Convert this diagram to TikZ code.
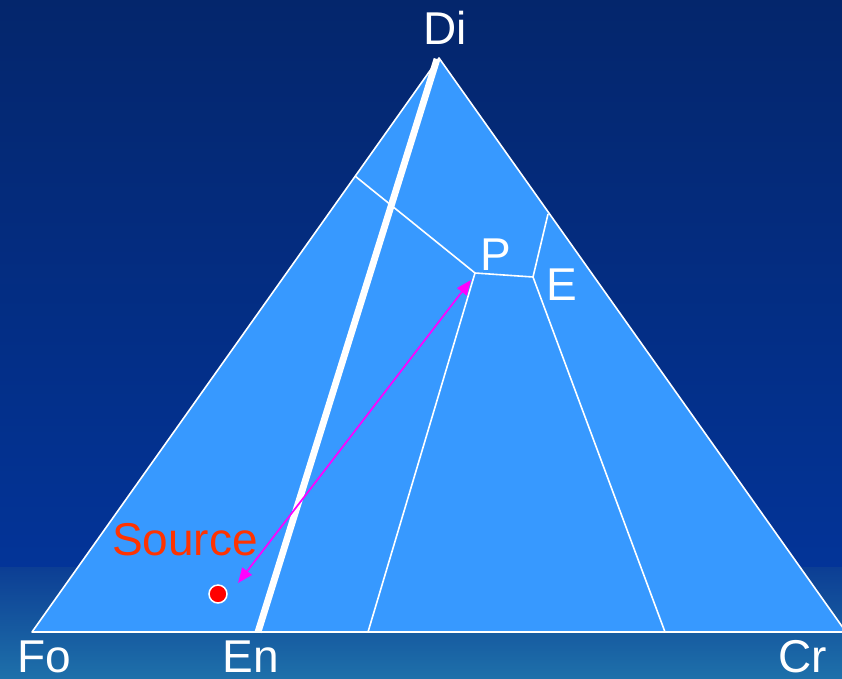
\documentclass[tikz,border=0pt]{standalone}
\usepackage{fontspec}
\setmainfont{Liberation Sans}
\usetikzlibrary{arrows.meta}

\definecolor{navytop}{RGB}{4,38,108}
\definecolor{navymid}{RGB}{3,52,152}
\definecolor{bandtop}{RGB}{12,62,148}
\definecolor{bandbot}{RGB}{30,112,170}
\definecolor{fieldblue}{RGB}{55,153,255}
\definecolor{srcred}{RGB}{255,51,0}
\definecolor{tiepink}{RGB}{255,0,255}

\begin{document}
\begin{tikzpicture}[
  x=1pt, y=-1pt,
  >={Triangle[length=15pt,width=12pt]},
  bigtext/.style={text=white, font=\fontsize{46}{50}\selectfont, inner sep=0pt},
  fieldline/.style={draw=white, line width=1.6pt},
  joinline/.style={draw=white, line width=6.8pt, line cap=butt},
  tieline/.style={<->, draw=tiepink, line width=1.7pt}
]
  \clip (0,0) rectangle (842,678);
  % background
  \shade[top color=navytop, bottom color=navymid] (0,0) rectangle (842,567);
  \shade[top color=bandtop, bottom color=bandbot] (0,567) rectangle (842,678);

  % corners and field boundaries
  \coordinate (apex) at (439,58);
  \coordinate (fo) at (32,632);
  \coordinate (cr) at (846,632);
  \coordinate (en) at (258,632);
  \coordinate (ptp) at (475,273);
  \coordinate (ptj) at (533,277);
  \coordinate (left1) at (355,176);
  \coordinate (right1) at (548,214);
  \coordinate (base1) at (368,632);
  \coordinate (base2) at (665,632);
  \coordinate (entop) at (437,59);

  \fill[fieldblue] (apex) -- (fo) -- (cr) -- cycle;
  \draw[fieldline] (left1) -- (ptp) -- (ptj) -- (right1);
  \draw[fieldline] (ptp) -- (base1);
  \draw[fieldline] (ptj) -- (base2);
  \draw[fieldline, line join=round] (apex) -- (fo) -- (cr) -- cycle;
  \draw[joinline] (entop) -- (en);

  % source and path to P
  \node[circle, fill=red, draw=white, line width=1.5pt, minimum size=18pt, inner sep=0pt] (src) at (218,594) {};
  \coordinate (tipa) at (238,583);
  \coordinate (tipb) at (471,280);
  \draw[tieline] (tipa) -- (tipb);

  % labels
  \node[bigtext] (di) at (445,28) {Di};
  \node[bigtext] (folab) at (44,657) {Fo};
  \node[bigtext] (enlab) at (251,657) {En};
  \node[bigtext] (crlab) at (803,657) {Cr};
  \node[bigtext] (plab) at (496,255) {P};
  \node[bigtext] (elab) at (562,285) {E};
  \node[bigtext, text=srcred] (srclab) at (185,540) {Source};
\end{tikzpicture}
\end{document}
